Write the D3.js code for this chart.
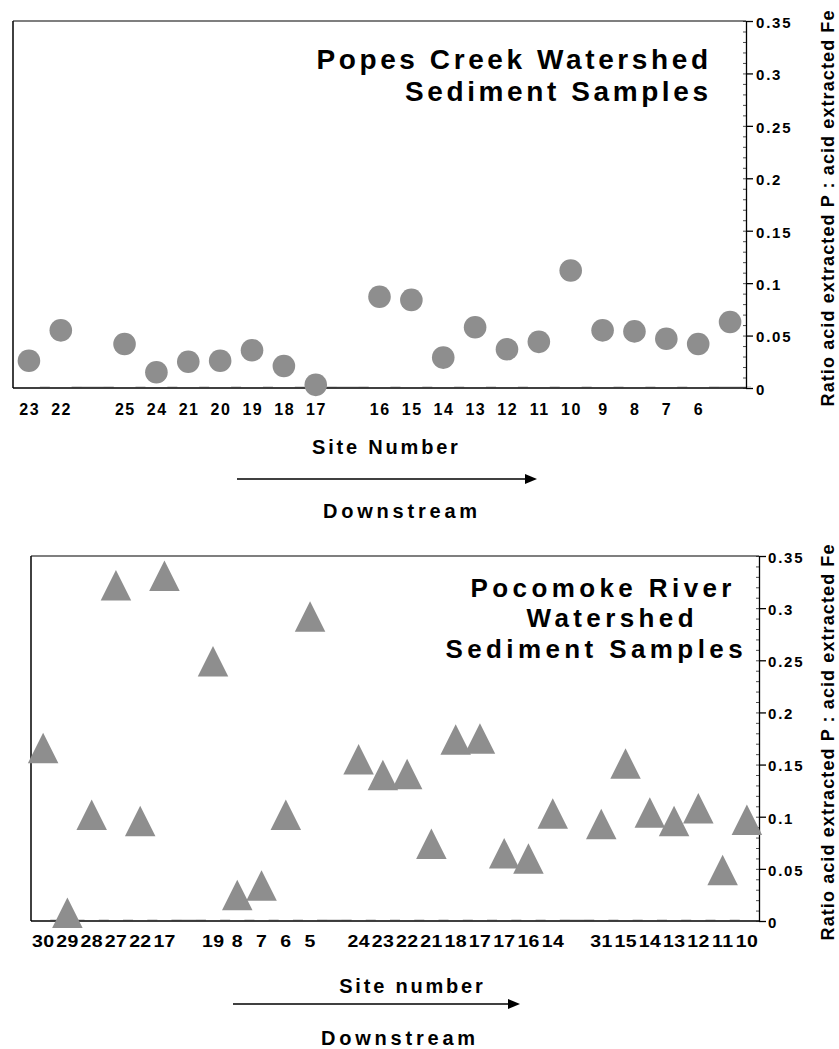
<!DOCTYPE html>
<html>
<head>
<meta charset="utf-8">
<script src="https://cdn.jsdelivr.net/npm/d3@7"></script>
<style>
  html, body { margin: 0; padding: 0; background: #fff; }
  svg { display: block; font-family: "Liberation Sans", Arial, Helvetica, sans-serif; }
</style>
</head>
<body>
<script>
// ---------------- DATA ----------------
const popesLabels = ["23","22","","25","24","21","20","19","18","17","","16","15","14","13","12","11","10","9","8","7","6",""];
const popesValues = [0.026,0.055,null,0.042,0.015,0.025,0.026,0.036,0.021,0.003,null,0.087,0.084,0.029,0.058,0.037,0.044,0.112,0.055,0.054,0.047,0.042,0.063];

const pocoLabels = ["30","29","28","27","22","17","","19","8","7","6","5","","24","23","22","21","18","17","17","16","14","","31","15","14","13","12","11","10"];
const pocoValues = [0.166,0.008,0.102,0.322,0.096,0.331,null,0.249,0.025,0.034,0.102,0.292,null,0.155,0.140,0.141,0.074,0.174,0.175,0.065,0.060,0.103,null,0.093,0.151,0.104,0.096,0.108,0.049,0.097];

const yTickValues = [0,0.05,0.1,0.15,0.2,0.25,0.3,0.35];
const yTickLabels = ["0","0.05","0.1","0.15","0.2","0.25","0.3","0.35"];
const yTitle = "Ratio acid extracted P : acid extracted Fe";

const popesTitle = ["Popes Creek Watershed","Sediment Samples"];
const pocoTitle = ["Pocomoke River","Watershed","Sediment Samples"];
const popesXTitle = "Site Number";
const pocoXTitle = "Site number";
const directionLabel = "Downstream";

// ---------------- SETUP ----------------
const W = 839, H = 1049;
const MARK = "#8e8e8e";
const svg = d3.select("body").append("svg").attr("width", W).attr("height", H);

// bold text with optional tracking / rotation / horizontal stretch
function stext(g, x, y, str, o) {
  const ls = o.ls || 0;
  let dx = 0;
  if (o.anchor === "middle") dx = ls / 2;
  if (o.anchor === "end") dx = ls;
  let tr = `translate(${x},${y})`;
  if (o.rot) tr += ` rotate(${o.rot})`;
  tr += ` translate(${dx},0)`;
  if (o.sx && o.sx !== 1) tr += ` scale(${o.sx},1)`;
  return g.append("text")
    .attr("transform", tr)
    .attr("text-anchor", o.anchor || "start")
    .attr("font-size", o.size)
    .attr("font-weight", "bold")
    .attr("letter-spacing", ls)
    .attr("fill", "#000")
    .text(str);
}

function panel(cfg) {
  const g = svg.append("g");
  const n = cfg.labels.length;
  const x = d3.scaleBand().domain(d3.range(n)).range([cfg.left, cfg.right]).paddingInner(0).paddingOuter(0);
  const bw = x.bandwidth();
  const y = d3.scaleLinear().domain([0, 0.35]).range([cfg.bottom, cfg.top]);

  // faint grey dashes along the category axis (slot boundaries)
  const dashes = [];
  for (let k = 1; k < n; k++) { const b = cfg.left + k * bw; dashes.push([b - 5, b + 5]); }
  cfg.labels.forEach((l, i) => { if (l === "") dashes.push([x(i) - 5, x(i) + bw + 5]); });
  g.selectAll("line.dash").data(dashes).enter().append("line")
    .attr("x1", d => d[0]).attr("x2", d => d[1])
    .attr("y1", cfg.bottom - 1.2).attr("y2", cfg.bottom - 1.2)
    .attr("stroke", "#d2d2d2").attr("stroke-width", 1.3);

  // frame
  g.append("line").attr("x1", cfg.left).attr("x2", cfg.right).attr("y1", cfg.top).attr("y2", cfg.top)
    .attr("stroke", "#555").attr("stroke-width", 1.3);
  g.append("line").attr("x1", cfg.left).attr("x2", cfg.left).attr("y1", cfg.top).attr("y2", cfg.bottom)
    .attr("stroke", "#111").attr("stroke-width", 1.6);
  g.append("line").attr("x1", cfg.left).attr("x2", cfg.right).attr("y1", cfg.bottom).attr("y2", cfg.bottom)
    .attr("stroke", "#000").attr("stroke-width", 1.3);

  // x axis labels
  const xa = g.append("g").attr("transform", `translate(0,${cfg.bottom})`)
    .call(d3.axisBottom(x).tickSize(0).tickFormat(i => cfg.labels[i]));
  xa.select(".domain").remove();
  xa.selectAll("text")
    .attr("y", null).attr("dy", null)
    .attr("transform", `translate(${cfg.xLabelLs / 2},${cfg.xLabelOffset}) scale(${cfg.xLabelScale},1)`)
    .attr("letter-spacing", cfg.xLabelLs)
    .attr("font-size", 16).attr("font-weight", "bold")
    .attr("font-family", null).attr("fill", "#000");

  // right axis: minor ticks
  const minor = g.append("g").attr("transform", `translate(${cfg.right},0)`)
    .call(d3.axisRight(y).tickValues(d3.range(0, 0.3501, 0.01)).tickSizeInner(-3).tickSizeOuter(0).tickFormat(""));
  minor.select(".domain").remove();
  minor.selectAll("line").attr("stroke", "#222").attr("stroke-width", 0.8);

  // right axis: major
  const ya = g.append("g").attr("transform", `translate(${cfg.right},0)`)
    .call(d3.axisRight(y).tickValues(yTickValues).tickFormat((d, i) => yTickLabels[i]).tickSizeInner(7).tickSizeOuter(0));
  ya.select(".domain").attr("stroke", "#000").attr("stroke-width", 1.3);
  ya.selectAll("line").attr("stroke", "#000").attr("stroke-width", 1.3);
  ya.selectAll("text")
    .attr("x", cfg.yLabelGap).attr("dy", "0.42em")
    .attr("letter-spacing", 1.8)
    .attr("font-size", 15).attr("font-weight", "bold")
    .attr("font-family", null).attr("fill", "#000");

  // y title
  stext(g, 834, (cfg.top + cfg.bottom) / 2 + 4, yTitle, { size: 18, ls: 1.1, anchor: "middle", rot: -90 });

  // titles
  cfg.titleLines.forEach(l => stext(g, l.x, l.y, l.text, cfg.titleStyle));

  // x axis title, arrow, direction
  stext(g, cfg.xTitle.x, cfg.xTitle.y, cfg.xTitle.text, { size: 20, ls: 2.8, anchor: "middle" });
  const a = cfg.arrow;
  g.append("line").attr("x1", a.x1).attr("x2", a.x2 - 10).attr("y1", a.y).attr("y2", a.y)
    .attr("stroke", "#000").attr("stroke-width", 1.5);
  g.append("path").attr("d", `M${a.x2},${a.y} L${a.x2 - 12},${a.y - 5} L${a.x2 - 12},${a.y + 5} Z`).attr("fill", "#000");
  stext(g, cfg.down.x, cfg.down.y, directionLabel, { size: 20, ls: 3.8, anchor: "middle" });

  // markers
  const pts = cfg.values.map((v, i) => ({ i, v })).filter(d => d.v !== null);
  if (cfg.shape === "circle") {
    g.selectAll("circle.m").data(pts).enter().append("circle")
      .attr("cx", d => x(d.i) + bw / 2).attr("cy", d => y(d.v)).attr("r", 11.3)
      .attr("fill", MARK);
  } else {
    const w = 30.5, h = 30.5;
    g.selectAll("path.m").data(pts).enter().append("path")
      .attr("d", d => {
        const cx = x(d.i) + bw / 2, cy = y(d.v);
        return `M${cx},${cy - h / 2} L${cx + w / 2},${cy + h / 2} L${cx - w / 2},${cy + h / 2} Z`;
      })
      .attr("fill", MARK);
  }
}

panel({
  labels: popesLabels, values: popesValues, shape: "circle",
  left: 13, right: 746, top: 21, bottom: 388,
  xLabelOffset: 27, xLabelScale: 1.0, xLabelLs: 1.5, yLabelGap: 10,
  titleStyle: { size: 28, ls: 3.6, anchor: "end" },
  titleLines: [
    { text: popesTitle[0], x: 708, y: 69 },
    { text: popesTitle[1], x: 708, y: 101 }
  ],
  xTitle: { text: popesXTitle, x: 385, y: 454 },
  arrow: { x1: 237, x2: 537, y: 479 },
  down: { x: 400, y: 518 }
});

panel({
  labels: pocoLabels, values: pocoValues, shape: "triangle",
  left: 31, right: 759, top: 556, bottom: 921,
  xLabelOffset: 25.7, xLabelScale: 1.22, xLabelLs: 0.3, yLabelGap: 9,
  titleStyle: { size: 26, ls: 4.4, anchor: "middle" },
  titleLines: [
    { text: pocoTitle[0], x: 601, y: 597 },
    { text: pocoTitle[1], x: 610, y: 627 },
    { text: pocoTitle[2], x: 594, y: 658 }
  ],
  xTitle: { text: pocoXTitle, x: 411, y: 993 },
  arrow: { x1: 233, x2: 520, y: 1004 },
  down: { x: 398, y: 1045 }
});
</script>
</body>
</html>
